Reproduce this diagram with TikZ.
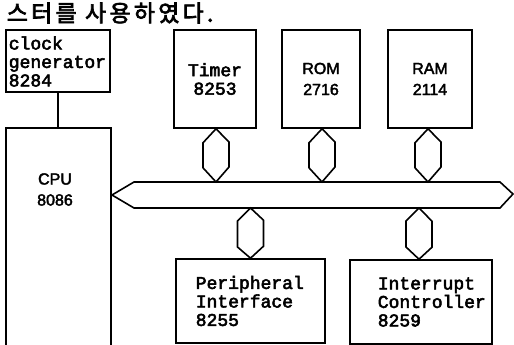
\documentclass[tikz,border=0pt]{standalone}
\usepackage{fontspec}
\setmainfont{Liberation Sans}
\newfontfamily\mysans[FakeBold=2.5]{Liberation Sans}
\newfontfamily\mymono[FakeBold=3]{Liberation Mono}
\newfontfamily\kr[FakeBold=3]{Noto Sans CJK KR}
\begin{document}
\begin{tikzpicture}[x=1pt,y=-1pt, line width=1.6pt, line join=miter,
  box/.style={draw, rectangle, inner sep=0pt},
  mono/.style={font=\mymono\fontsize{18}{18.5}\selectfont, inner sep=0pt},
  sanslbl/.style={font=\mysans\fontsize{16}{21}\selectfont, inner sep=0pt, align=center}]
\useasboundingbox (0,0) rectangle (514,345);
\clip (0,0) rectangle (514,345);

% title line
\node[anchor=west, inner sep=0pt, font=\kr\fontsize{23}{23}\selectfont\addfontfeature{LetterSpace=14}] (title) at (6,13) {스터를 사용하였다.};

% clock generator
\node[box, minimum width=104pt, minimum height=62pt] (clk) at (58,61) {};
\node[mono, anchor=west, align=left] (clkt) at (8,61.5) {clock\\generator\\8284};

% CPU
\node[box, minimum width=105pt, minimum height=240pt] (cpu) at (58.5,248) {};
\node[sanslbl] (cput) at (55,189.5) {CPU\\8086};

% upper devices
\node[box, mono, align=center, minimum width=82pt, minimum height=98pt] (tim) at (215,79) {Timer\\8253};
\node[box, sanslbl, minimum width=78pt, minimum height=98pt] (rom) at (321,79) {ROM\\2716};
\node[box, sanslbl, minimum width=84pt, minimum height=98pt] (ram) at (430,79) {RAM\\2114};

% lower devices
\node[box, minimum width=149pt, minimum height=84pt] (per) at (250.5,301) {};
\node[mono, anchor=west, align=left] (pert) at (195,301) {Peripheral\\Interface\\8255};
\node[box, minimum width=142pt, minimum height=84pt] (int) at (421,302) {};
\node[mono, anchor=west, align=left] (intt) at (377,302) {Interrupt\\Controller\\8259};

% clock to CPU
\draw (clk.south) -- (clk.south |- cpu.north);

% bus
\coordinate (busT) at (300,182);
\coordinate (busB) at (300,208);
\draw (112,195) -- (134,182) -- (500,182) -- (513,194) -- (500,208) -- (134,208) -- cycle;

% upper bus connectors
\foreach \n/\dx in {tim/1, rom/1, ram/-2} {
  \draw ([xshift=\dx pt]\n.south) -- ++(-13,14) -- ++(0,25) -- ([xshift=\dx pt]\n.south |- busT) -- ++(13,-15) -- ++(0,-25) -- cycle;
}
% lower bus connectors
\foreach \n/\dx in {per/0, int/-2} {
  \draw ([xshift=\dx pt]\n.north |- busB) -- ++(-13,13) -- ++(0,26) -- ([xshift=\dx pt]\n.north) -- ++(13,-12) -- ++(0,-26) -- cycle;
}
\end{tikzpicture}
\end{document}
